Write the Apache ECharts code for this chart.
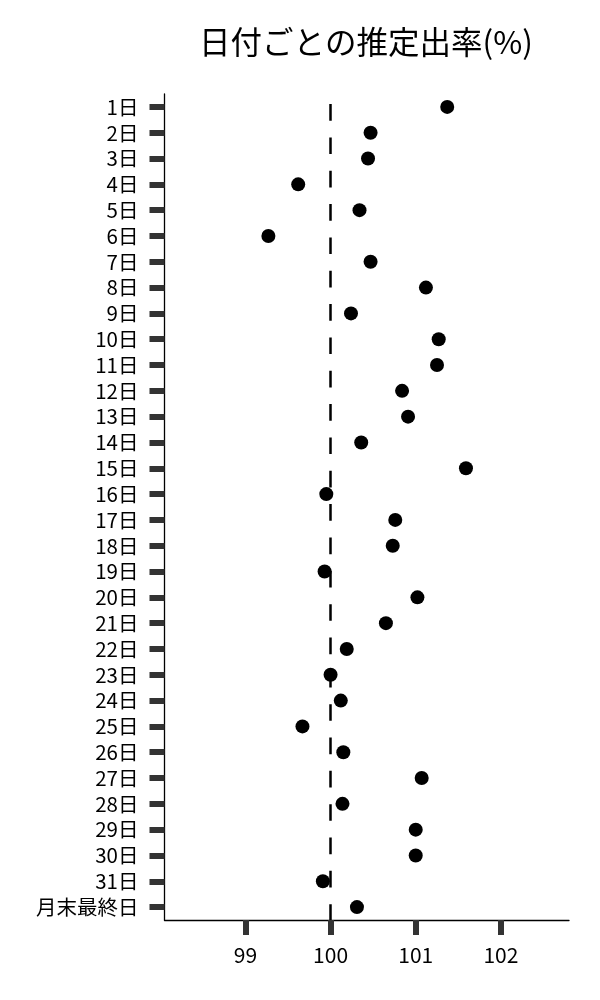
<!DOCTYPE html>
<html>
<head>
<meta charset="utf-8">
<script src="https://cdn.jsdelivr.net/npm/echarts@6/dist/echarts.min.js"></script>
<style>
  html, body { margin: 0; padding: 0; background: #fff; }
  #chart { width: 600px; height: 1000px; }
</style>
</head>
<body>
<div id="chart"></div>
<script>
const titleText = '日付ごとの推定出率(%)';
const categories = ['1日','2日','3日','4日','5日','6日','7日','8日','9日','10日',
  '11日','12日','13日','14日','15日','16日','17日','18日','19日','20日',
  '21日','22日','23日','24日','25日','26日','27日','28日','29日','30日','31日','月末最終日'];
const rates = [101.37, 100.47, 100.44, 99.62, 100.34, 99.27, 100.47, 101.12, 100.24, 101.27,
  101.25, 100.84, 100.91, 100.36, 101.59, 99.95, 100.76, 100.73, 99.93, 101.02,
  100.65, 100.19, 100.00, 100.12, 99.67, 100.15, 101.07, 100.14, 101.00, 101.00, 99.91, 100.31];
const xTicks = [99, 100, 101, 102];
const referenceValue = 100;

const FONT = '"Noto Sans CJK JP", "Noto Sans", sans-serif';
const chart = echarts.init(document.getElementById('chart'));
chart.setOption({
  animation: false,
  backgroundColor: '#fff',
  title: {
    text: titleText,
    left: 361,
    textAlign: 'center',
    top: 21,
    textStyle: { fontFamily: FONT, fontSize: 31.5, fontWeight: 'normal', color: '#000' }
  },
  grid: { left: 164.5, right: 31, top: 94, bottom: 80, containLabel: false },
  xAxis: {
    type: 'value',
    min: 98.05,
    max: 102.8,
    splitLine: { show: false },
    axisLine: { show: true, onZero: false, lineStyle: { color: '#000', width: 1.3 } },
    axisTick: { show: true, length: 15, customValues: xTicks, lineStyle: { color: '#333', width: 6 } },
    axisLabel: { customValues: xTicks, fontFamily: FONT, fontSize: 21, color: '#000', margin: 25 }
  },
  yAxis: {
    type: 'category',
    data: categories,
    inverse: true,
    splitLine: { show: false },
    axisLine: { show: true, lineStyle: { color: '#000', width: 1.3 } },
    axisTick: { show: true, alignWithLabel: true, length: 15, lineStyle: { color: '#333', width: 6 } },
    axisLabel: { interval: 0, fontFamily: FONT, fontSize: 20.5, color: '#000', margin: 26 }
  },
  series: [{
    type: 'scatter',
    symbol: 'circle',
    symbolSize: 14,
    itemStyle: { color: '#000', opacity: 1 },
    data: rates.map((v, i) => [v, categories[i]]),
    markLine: {
      silent: true,
      symbol: ['none', 'none'],
      label: { show: false },
      lineStyle: { color: '#000', width: 2.5, type: [16.67, 16.67], dashOffset: 23.3, opacity: 1 },
      data: [{ xAxis: referenceValue }]
    },
    z: 3
  }]
});
</script>
</body>
</html>
